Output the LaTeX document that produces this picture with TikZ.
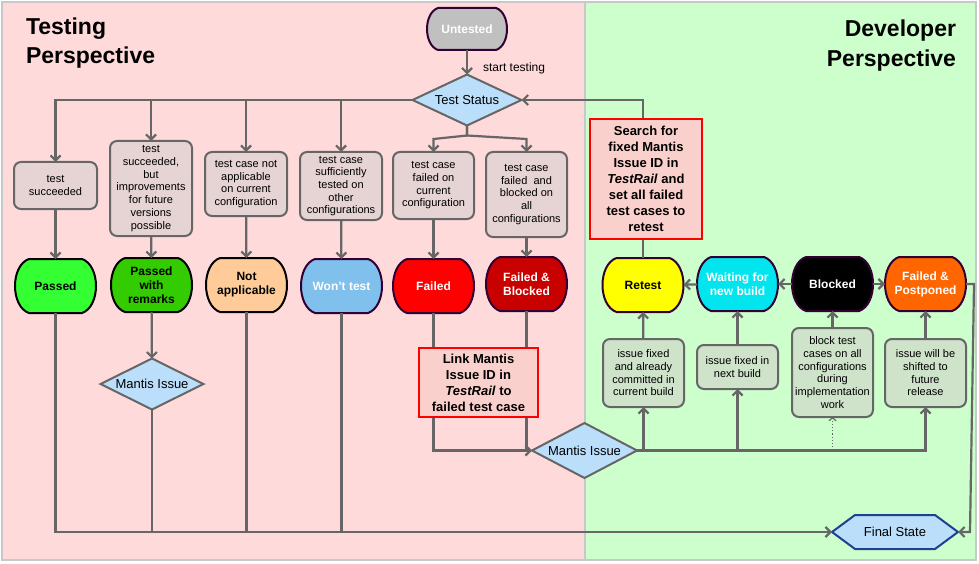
\documentclass[tikz,border=0pt]{standalone}
\usepackage{fontspec}
\setmainfont{Liberation Sans}
\usetikzlibrary{shapes.geometric,arrows.meta,calc}
\definecolor{pinkbg}{HTML}{FFDADA}
\definecolor{greenbg}{HTML}{CCFFCC}
\definecolor{linegray}{HTML}{666666}
\definecolor{condfill}{HTML}{E6D3D3}
\definecolor{devfill}{HTML}{CFE3CB}
\definecolor{notefill}{HTML}{FAD0CC}
\definecolor{diafill}{HTML}{BBDEFB}
\definecolor{framegray}{HTML}{C8C8C8}
\definecolor{darkpurple}{HTML}{330033}
\definecolor{hexborder}{HTML}{1F3F8F}
\definecolor{untfill}{HTML}{C0C0C0}
\definecolor{passgreen}{HTML}{33FF33}
\definecolor{remgreen}{HTML}{33CC00}
\definecolor{naorange}{HTML}{FFCC99}
\definecolor{wontblue}{HTML}{80C0EC}
\definecolor{failred}{HTML}{FF0000}
\definecolor{fbred}{HTML}{C80000}
\definecolor{retyellow}{HTML}{FFFF00}
\definecolor{waitcyan}{HTML}{00E5EE}
\definecolor{fporange}{HTML}{FF6600}
% bulged status outline: cx, cy, w, h, e, fill, draw
\newcommand\mystatbg[7]{%
  \filldraw[fill=#6, draw=#7, line width=2pt]
    ({#1-#3/2+#5},{#2-#4/2}) -- ({#1+#3/2-#5},{#2-#4/2})
    .. controls ({#1+#3/2-#5+4*#5/3},{#2-#4/2+0.12*#4}) and ({#1+#3/2-#5+4*#5/3},{#2+#4/2-0.12*#4}) .. ({#1+#3/2-#5},{#2+#4/2})
    -- ({#1-#3/2+#5},{#2+#4/2})
    .. controls ({#1-#3/2+#5-4*#5/3},{#2+#4/2-0.12*#4}) and ({#1-#3/2+#5-4*#5/3},{#2-#4/2+0.12*#4}) .. cycle;}
\begin{document}
\begin{tikzpicture}[x=1pt,y=-1pt,
  every node/.style={inner sep=0pt, outer sep=0pt},
  cond/.style={rectangle, rounded corners=7pt, draw=linegray, line width=2pt, fill=condfill, align=center, font=\fontsize{11}{12.7}\selectfont},
  dev/.style={cond, fill=devfill},
  stat/.style={rectangle, align=center, font=\bfseries\fontsize{12}{14}\selectfont, minimum width=81pt, minimum height=54pt},
  dia/.style={diamond, aspect=2.1, draw=linegray, line width=2pt, fill=diafill, font=\fontsize{13}{15}\selectfont},
  note/.style={rectangle, draw=red, line width=2pt, fill=notefill, align=center, font=\bfseries\fontsize{13}{16}\selectfont},
  title/.style={font=\bfseries\fontsize{23}{28}\selectfont},
  conn/.style={draw=linegray, line width=2.2pt},
  arr/.style={conn, -{Straight Barb[length=5pt,width=10pt]}}
]
\useasboundingbox (0,0) rectangle (979,564);
% panels
\fill[pinkbg] (3,3) rectangle (585,559);
\fill[greenbg] (585,3) rectangle (975,559);
\draw[framegray, line width=2pt] (585,3) -- (585,559);
\draw[framegray, line width=2pt] (2,2) rectangle (976,560);

% titles
\node[title, anchor=base west] (tt1) at (26,35) {Testing};
\node[title, anchor=base west] (tt2) at (26,64) {Perspective};
\node[title, anchor=base east] (dt1) at (956,37) {Developer};
\node[title, anchor=base east] (dt2) at (956,67) {Perspective};

% top
\mystatbg{467}{29}{80}{42}{11}{untfill}{darkpurple}
\node[stat, minimum width=80pt, minimum height=42pt, text=white] (unt) at (467,29) {Untested};
\node[dia, minimum width=109pt, minimum height=51pt] (ts) at (467,100) {Test Status};
\node[anchor=base west, font=\fontsize{12}{14}\selectfont] (stl) at (483,72) {start testing};

% condition boxes
\node[cond, minimum width=83pt, minimum height=47pt] (c1) at (55.5,185.5) {test\\succeeded};
\node[cond, minimum width=82pt, minimum height=95pt] (c2) at (151,188.5) {test\\succeeded,\\but\\improvements\\for future\\versions\\possible};
\node[cond, minimum width=82pt, minimum height=64pt] (c3) at (246,184) {test case not\\applicable\\on current\\configuration};
\node[cond, minimum width=82pt, minimum height=68pt] (c4) at (341,186) {test case\\sufficiently\\tested on\\other\\configurations};
\node[cond, minimum width=81pt, minimum height=67pt] (c5) at (433.5,185.5) {test case\\failed on\\current\\configuration};
\node[cond, minimum width=81pt, minimum height=85pt] (c6) at (526.5,194.5) {test case\\failed\ \ and\\blocked on\\all\\configurations};

% status nodes
\mystatbg{55.5}{286}{81}{54}{14}{passgreen}{black}
\node[stat] (s1) at (55.5,286) {Passed};
\mystatbg{151.5}{285}{81}{54}{14}{remgreen}{black}
\node[stat] (s2) at (151.5,285) {Passed\\with\\remarks};
\mystatbg{246.5}{285}{81}{54}{14}{naorange}{black}
\node[stat] (s3) at (246.5,285) {Not\\applicable};
\mystatbg{341.5}{286}{81}{54}{14}{wontblue}{darkpurple}
\node[stat, text=white] (s4) at (341.5,286) {Won't test};
\mystatbg{433.5}{286}{81}{54}{14}{failred}{darkpurple}
\node[stat, text=white] (s5) at (433.5,286) {Failed};
\mystatbg{526.5}{284}{81}{54}{14}{fbred}{darkpurple}
\node[stat, text=white] (s6) at (526.5,284) {Failed \&\\Blocked};
\mystatbg{643}{285}{81}{54}{14}{retyellow}{darkpurple}
\node[stat] (s7) at (643,285) {Retest};
\mystatbg{737.5}{284}{81}{54}{14}{waitcyan}{darkpurple}
\node[stat, text=white] (s8) at (737.5,284) {Waiting for\\new build};
\mystatbg{832.5}{284}{81}{54}{14}{black}{darkpurple}
\node[stat, text=white] (s9) at (832.5,284) {Blocked};
\mystatbg{925.5}{284}{81}{54}{14}{fporange}{darkpurple}
\node[stat, text=white] (s10) at (925.5,284) {Failed \&\\Postponed};

% diamonds
\node[dia, minimum width=103pt, minimum height=51pt] (m1) at (152,384) {Mantis Issue};
\node[dia, minimum width=105pt, minimum height=55pt] (m2) at (584.5,450.5) {Mantis Issue};

% developer boxes
\node[dev, minimum width=81pt, minimum height=68pt] (da) at (643.5,373) {issue fixed\\and already\\committed in\\current build};
\node[dev, minimum width=81pt, minimum height=44pt] (db) at (737.5,367) {issue fixed in\\next build};
\node[dev, minimum width=81pt, minimum height=89pt] (dc) at (832.5,372.5) {block test\\cases on all\\configurations\\during\\implementation\\work};
\node[dev, minimum width=81pt, minimum height=68pt] (dd) at (925.5,373) {issue will be\\shifted to\\future\\release};

% final state
\filldraw[fill=diafill, draw=hexborder, line width=2pt]
  (832,532) -- (855,515) -- (935,515) -- (958,532) -- (935,549) -- (855,549) -- cycle;
\node[minimum width=126pt, minimum height=34pt, font=\fontsize{13}{15}\selectfont] (fs) at (895,532) {Final State};

% connectors
\draw[arr] (unt) -- (ts);
\draw[arr] (ts.west) -| (c1.north);
\draw[arr] (c2.north |- ts.west) -- (c2.north);
\draw[arr] (c3.north |- ts.west) -- (c3.north);
\draw[arr] (c4.north |- ts.west) -- (c4.north);
\draw[arr] (ts.south) -- ++(0,10) -- ($(c5.north)+(0,-13)$) -- (c5.north);
\draw[arr] (ts.south) -- ++(0,10) -- ($(c6.north)+(0,-13)$) -- (c6.north);
\draw[arr] (c1) -- (s1);
\draw[arr] (c2) -- (s2);
\draw[arr] (c3) -- (s3);
\draw[arr] (c4) -- (s4);
\draw[arr] (c5) -- (s5);
\draw[arr] (c6) -- (s6);

\draw[arr] (s1.south) |- (fs.west);
\draw[arr] (s2) -- (m1);
\draw[conn] (m1.south) -- (m1.south |- fs.west);
\draw[conn] (s3.south) -- (s3.south |- fs.west);
\draw[conn] (s4.south) -- (s4.south |- fs.west);
\draw[arr] (s5.south) |- (m2.west);
\draw[conn] (s6.south) -- (s6.south |- m2.west);

\draw[arr] (m2.east) -| (dd.south);
\draw[arr] (da.south |- m2.east) -- (da.south);
\draw[arr] (db.south |- m2.east) -- (db.south);
\draw[draw=linegray, line width=1.2pt, dotted, -{Straight Barb[length=3pt,width=7pt]}] (dc.south |- m2.east) -- (dc.south);

\draw[arr] (da) -- (s7);
\draw[arr] (db) -- (s8);
\draw[arr] (dc) -- (s9);
\draw[arr] (dd) -- (s10);
\draw[arr] (s8) -- (s7);
\draw[arr] (s9) -- (s8);
\draw[arr] (s9) -- (s10);
\draw[arr] (s10.east) -- ++(8,0) -- ($(fs.east)+(12,0)$) -- (fs.east);
\draw[arr] (s7.north) |- (ts.east);

% annotation boxes
\node[note, minimum width=112pt, minimum height=120pt] (srch) at (646,179) {Search for\\fixed Mantis\\Issue ID in\\\textit{TestRail} and\\set all failed\\test cases to\\retest};
\node[note, minimum width=119pt, minimum height=69pt] (link) at (478.5,382.5) {Link Mantis\\Issue ID in\\\textit{TestRail} to\\failed test case};
\end{tikzpicture}
\end{document}
